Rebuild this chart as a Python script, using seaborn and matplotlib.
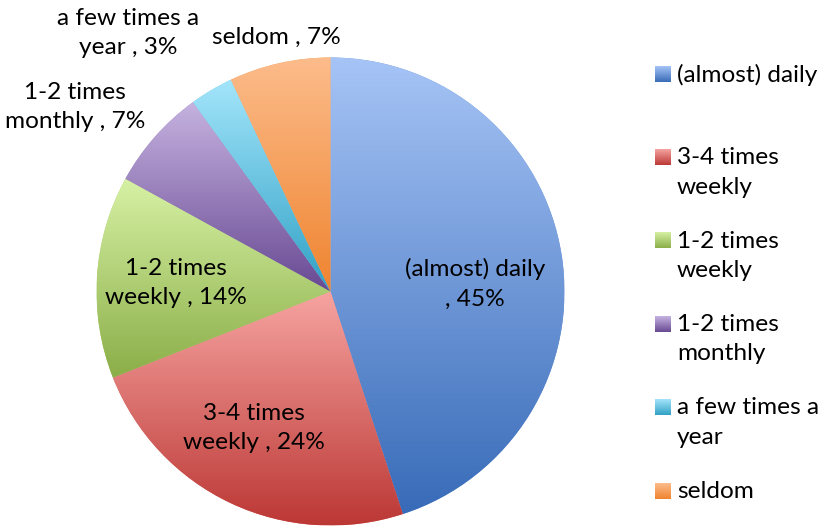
import numpy as np
import matplotlib
matplotlib.use("Agg")
import matplotlib.pyplot as plt
import seaborn as sns

# ---- data ----
categories = ["(almost) daily", "3-4 times weekly", "1-2 times weekly",
              "1-2 times monthly", "a few times a year", "seldom"]
shares = [45, 24, 14, 7, 3, 7]
legend_labels = ["(almost) daily", "3-4 times\nweekly", "1-2 times\nweekly",
                 "1-2 times\nmonthly", "a few times a\nyear", "seldom"]
slice_labels = ["(almost) daily\n, 45%", "3-4 times\nweekly , 24%",
                "1-2 times\nweekly , 14%", "1-2 times\nmonthly , 7%",
                "a few times a\nyear , 3%", "seldom , 7%"]

# ---- styles ----
grad_colors = [("#A6C4F6", "#386BB8"),
               ("#F6A4A1", "#BC3835"),
               ("#D6F1A4", "#8BAE48"),
               ("#C6B3E0", "#684993"),
               ("#A3E5FB", "#31A1C5"),
               ("#FCBC8B", "#EF8430")]

sns.set_theme(style="white")
plt.rcParams["font.family"] = ["Lato", "DejaVu Sans"]

W, H = 821, 530
fig = plt.figure(figsize=(W / 100, H / 100), dpi=100)
ax = fig.add_axes([0, 0, 1, 1])

cx, cy, R = 330.5, H - 291.5, 234
mid_cols = [sns.blend_palette(list(c), 3)[1] for c in grad_colors]
wedges, _ = ax.pie(shares, startangle=90, counterclock=False,
                   center=(cx, cy), radius=R, colors=mid_cols,
                   wedgeprops=dict(linewidth=0))

grad = np.linspace(0, 1, 512).reshape(-1, 1)
for w, (light, dark) in zip(wedges, grad_colors):
    ext = w.get_path().get_extents()
    cmap = sns.blend_palette([light, dark], as_cmap=True)
    im = ax.imshow(grad, extent=[ext.x0, ext.x1, ext.y0, ext.y1],
                   origin="upper", cmap=cmap, aspect="auto",
                   interpolation="bilinear", zorder=2)
    im.set_clip_path(w)

FS = 17.6
LS = 1.5
label_pos = [(475, 284), (254, 428), (176, 283), (75, 107), (128, 33), (276, 37)]
for txt, (x, y) in zip(slice_labels, label_pos):
    ax.text(x, H - y, txt, ha="center", va="center", fontsize=FS,
            linespacing=LS, color="black", zorder=5)

# legend
leg_y = [74, 157.5, 240.5, 324, 407.5, 491]
for lab, (light, dark), y in zip(legend_labels, grad_colors, leg_y):
    cmap = sns.blend_palette([light, dark], as_cmap=True)
    ax.imshow(grad, extent=[655, 671, H - y - 8, H - y + 8], origin="upper",
              cmap=cmap, aspect="auto", interpolation="bilinear", zorder=5)
    ax.text(677, H - y + 10, lab, ha="left", va="top", fontsize=FS,
            linespacing=LS, color="black", zorder=5)

ax.set_xlim(0, W)
ax.set_ylim(0, H)
ax.set_aspect("equal")
ax.axis("off")
fig.savefig("out.png", dpi=100, facecolor="white")
